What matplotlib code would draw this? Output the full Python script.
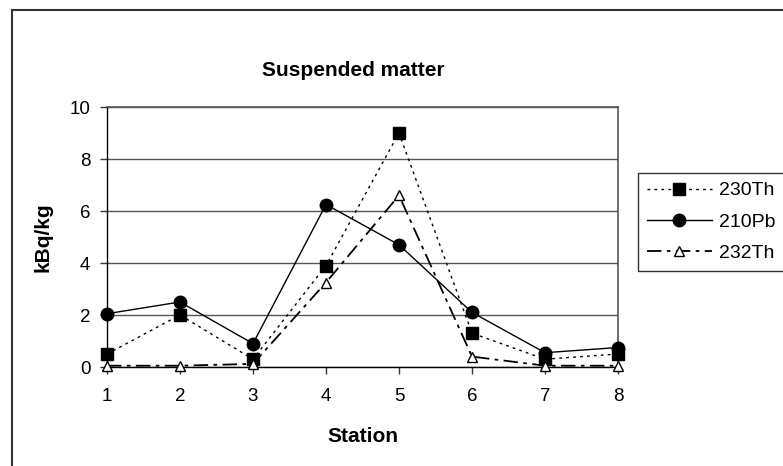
import matplotlib
matplotlib.use("Agg")
import matplotlib.pyplot as plt
from matplotlib.lines import Line2D

plt.rcParams['font.family'] = ['Liberation Sans', 'DejaVu Sans']

stations = [1, 2, 3, 4, 5, 6, 7, 8]
th230 = [0.5, 2.0, 0.3, 3.9, 9.0, 1.3, 0.3, 0.5]
pb210 = [2.05, 2.5, 0.9, 6.25, 4.7, 2.1, 0.55, 0.75]
th232 = [0.05, 0.05, 0.12, 3.25, 6.6, 0.4, 0.05, 0.05]
yticks = [0, 2, 4, 6, 8, 10]

W, H = 783, 466
fig = plt.figure(figsize=(W / 100, H / 100), dpi=100)
ax = fig.add_axes([107 / W, 1 - 367 / H, (618 - 107) / W, (367 - 107) / H])

ax.plot(stations, th230, color='black', lw=1.0, linestyle=(0, (2, 3)),
        marker='s', markersize=8, markerfacecolor='black', markeredgecolor='black',
        label='230Th', zorder=3, clip_on=False)
ax.plot(stations, pb210, color='black', lw=1.0, linestyle='-',
        marker='o', markersize=9, markerfacecolor='black', markeredgecolor='black',
        label='210Pb', zorder=3, clip_on=False)
ax.plot(stations, th232, color='black', lw=1.3, linestyle=(0, (8, 3, 2, 3)),
        marker='^', markersize=7.5, markerfacecolor='white', markeredgecolor='black',
        markeredgewidth=1.0, label='232Th', zorder=4, clip_on=False)

ax.set_xlim(1, 8)
ax.set_ylim(0, 10)
ax.set_xticks(stations)
ax.set_yticks(yticks)
ax.yaxis.grid(True, color='#555555', lw=1.0)
ax.set_axisbelow(True)
ax.tick_params(axis='both', labelsize=13.5, length=5, width=1, color='#333333')
ax.tick_params(axis='y', pad=7)
ax.tick_params(axis='x', pad=10)
for s in ['top', 'right']:
    ax.spines[s].set_color('#555555')
    ax.spines[s].set_linewidth(1.2)
for s in ['left', 'bottom']:
    ax.spines[s].set_color('black')
    ax.spines[s].set_linewidth(1.0)

ax.set_xlabel('Station', fontsize=15, fontweight='bold', labelpad=16)
ax.set_ylabel('kBq/kg', fontsize=15, fontweight='bold', labelpad=12)
fig.text(353 / W, 1 - 70 / H, 'Suspended matter', fontsize=15, fontweight='bold',
         ha='center', va='center')

leg = fig.legend(loc='upper left', bbox_to_anchor=(638 / W, 1 - 173 / H),
                 fontsize=14, frameon=True, fancybox=False, handlelength=3.35,
                 handletextpad=0.36, borderpad=0.45, labelspacing=0.7,
                 borderaxespad=0)
leg.get_frame().set_edgecolor('black')
leg.get_frame().set_linewidth(1.0)

# outer chart-area border (top and left only visible)
fig.add_artist(Line2D([12 / W, 1.0], [1 - 10 / H, 1 - 10 / H],
                      transform=fig.transFigure, color='#333333', lw=1.5))
fig.add_artist(Line2D([12 / W, 12 / W], [0, 1 - 10 / H],
                      transform=fig.transFigure, color='#333333', lw=1.5))

fig.savefig('out.png', dpi=100)
